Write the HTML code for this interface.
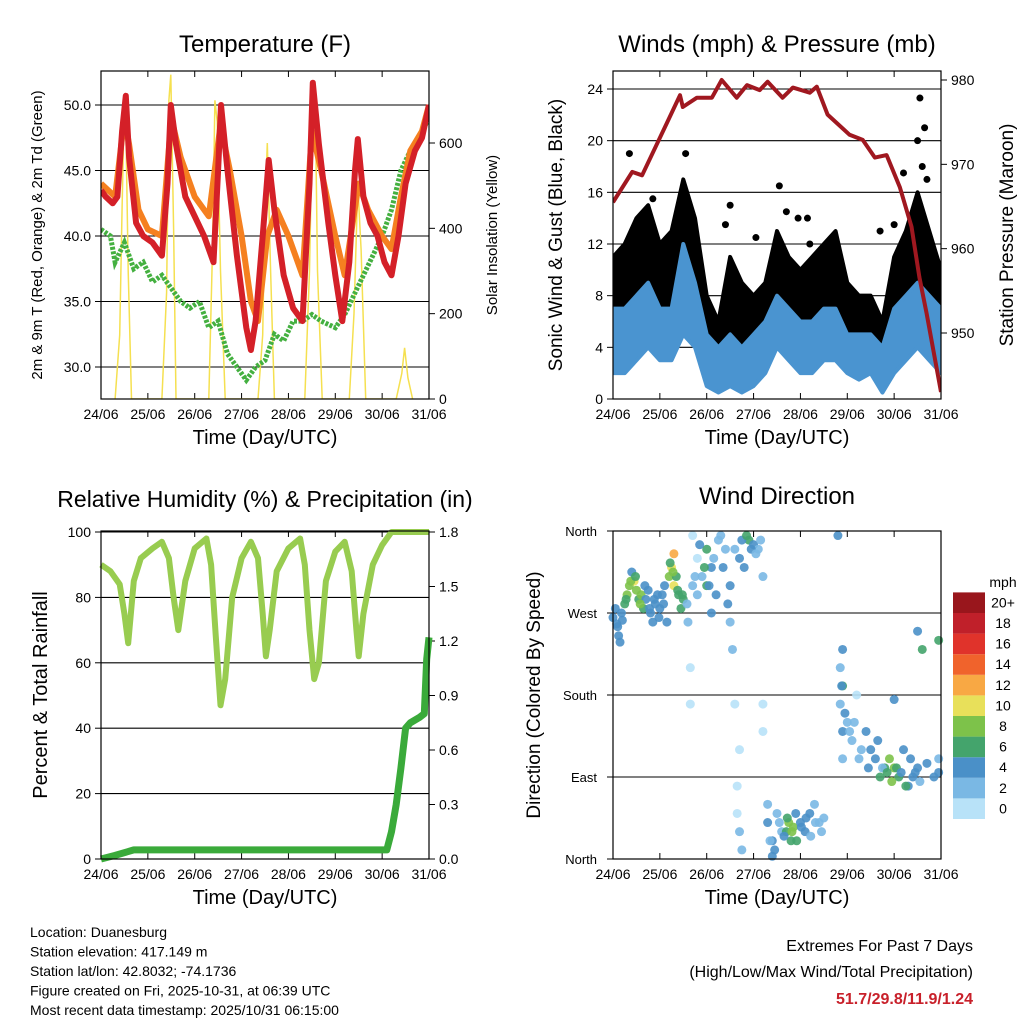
<!DOCTYPE html>
<html><head><meta charset="utf-8"><style>
body{margin:0;background:#fff}
svg{display:block;font-family:"Liberation Sans",sans-serif}
</style></head><body>
<svg id="s" width="1024" height="1024" viewBox="0 0 1024 1024"></svg>
<script>
// ---- Temperature data (day offset, value) ----
const redDays=[0,0.1,0.25,0.35,0.45,0.53,0.6,0.75,0.9,1.1,1.3,1.42,1.49,1.6,1.8,2.0,2.2,2.4,2.5,2.56,2.7,2.9,3.1,3.2,3.3,3.45,3.58,3.7,3.9,4.1,4.3,4.45,4.52,4.65,4.85,5.0,5.15,5.3,5.42,5.48,5.6,5.75,5.9,6.05,6.2,6.35,6.5,6.7,6.85,7];
const redVals=[43.5,43,42.5,43,48,50.7,46,41,40,39.5,38.5,44,50,47,43,41.5,40,38,45,50,45,38.5,33,31.3,33.5,40,45.8,42,37,34.5,33.5,44,51.7,47,41,37,33.5,38,45,47.4,43,41,40,38,37,40,44,46.5,47.5,50];
const orangeDays=[0,0.3,0.5,0.6,0.8,1.0,1.3,1.5,1.7,2.0,2.3,2.55,2.75,3.0,3.2,3.35,3.55,3.75,4.0,4.3,4.5,4.7,5.0,5.2,5.5,5.7,6.0,6.2,6.4,6.6,6.85,7];
const orangeVals=[44,43,49,47,42,40.5,40,49,46,43,41.5,48.5,45,40,35,33.5,40,42,40,37,48,45,40,37,44,42,40,39,43,46.5,48,50];
const greenDays=[0,0.2,0.3,0.5,0.7,0.9,1.1,1.3,1.5,1.7,1.9,2.1,2.3,2.5,2.7,2.9,3.1,3.3,3.5,3.7,3.9,4.1,4.3,4.5,4.7,5.0,5.2,5.4,5.6,5.8,6.0,6.2,6.4,6.6,6.85,7];
const greenVals=[40.5,40,38,39.5,37.5,38,36.5,37,36,35,34.5,35,33,33.5,31,30,29,30,30.5,32.5,32,33.5,33.5,34,33.5,33,34,35.5,37,38.5,40,42,45,46.5,48,49];
const solarDays=[0.3,0.4,0.45,0.5,0.53,0.58,0.65,1.3,1.4,1.45,1.49,1.55,1.6,1.68,2.3,2.38,2.43,2.48,2.55,2.65,3.35,3.45,3.5,3.55,3.62,3.7,4.35,4.45,4.52,4.57,4.62,4.72,5.3,5.4,5.48,5.55,5.65,6.3,6.42,6.48,6.55,6.65];
const solarVals=[0,150,450,700,650,300,0,0,250,700,760,400,0,0,0,350,700,650,300,0,0,150,450,600,300,0,0,300,700,730,300,0,0,200,500,350,0,0,60,120,50,0];
// ---- Winds ----
const windDays=[0,0.25,0.5,0.75,1,1.25,1.5,1.75,2,2.25,2.5,2.75,3,3.25,3.5,3.75,4,4.25,4.5,4.75,5,5.25,5.5,5.75,6,6.25,6.5,6.75,7];
const gustHigh=[11,12,14,15,12,13,17,14,8,6,11,9,8,9,13,11,10,11,12,13,9,8,8,6,11,13,16,13,10];
const gustLow=[4,5,6,6,5,5,7,6,2,2,3,2,2,3,5,5,4,4,5,5,3,3,3,2,3,5,6,6,4];
const windHigh=[7,7,8,9,7,7,12,9,5,4,5,4,5,6,8,7,6,6,7,7,5,5,5,4,7,8,9,8,7];
const windLow=[2,2,3,4,3,3,5,4,1,0.5,1,0.5,1,2,4,3,2,2,3,3,2,1.5,2,0.5,2,3,4,3,2];
const gustOutDays=[0.35,0.85,1.55,2.4,2.5,3.05,3.55,3.7,3.95,4.15,4.2,5.7,6.0,6.2,6.5,6.55,6.6,6.65,6.7];
const gustOutVals=[19,15.5,19,13.5,15,12.5,16.5,14.5,14,14,12,13,13.5,17.5,20,23.3,18,21,17];
const presDays=[0,0.41,0.62,1.15,1.43,1.49,1.79,2.11,2.32,2.64,2.86,3.13,3.30,3.62,3.84,4.2,4.35,4.58,5.05,5.33,5.59,5.84,6.12,6.37,6.54,6.69,7.0];
const presVals=[965.5,969.1,968.7,974.9,978.2,976.8,977.9,977.9,980.0,977.9,979.4,978.8,979.8,977.9,979.1,978.5,979.2,975.9,973.5,972.9,970.8,971.1,967.3,962.6,956.6,952.4,943.0];
// ---- RH & precip ----
const rhDays=[0,0.2,0.4,0.5,0.58,0.7,0.85,1.1,1.3,1.45,1.55,1.65,1.8,2.0,2.25,2.35,2.45,2.55,2.65,2.8,3.0,3.2,3.35,3.45,3.52,3.6,3.75,4.0,4.25,4.35,4.45,4.55,4.65,4.8,5.0,5.2,5.35,5.45,5.5,5.6,5.8,6.0,6.2,7];
const rhVals=[90,88,84,75,66,85,92,95,97,92,80,70,85,95,98,90,68,47,55,80,92,97,92,75,62,70,88,95,98,90,70,55,60,85,94,97,88,70,62,75,90,96,100,100];
const rainDays=[0,0.3,0.7,6.1,6.2,6.3,6.4,6.5,6.6,6.8,6.9,6.95,7];
const rainVals=[0,0.02,0.05,0.05,0.15,0.3,0.5,0.72,0.75,0.78,0.8,1.1,1.22];
// ---- Wind direction (day, degrees, speed mph) ----
const dirDays=[0,0.05,0.1,0.12,0.15,0.2,0.25,0.3,0.35,0.4,0.45,0.5,0.55,0.6,0.65,0.7,0.75,0.8,0.85,0.9,0.95,1.0,1.05,1.1,1.15,1.2,1.25,1.3,1.3,1.35,1.4,1.45,1.5,1.6,1.7,1.8,1.8,1.9,1.7,1.65,1.65,2.0,2.0,2.1,2.1,2.2,2.3,2.4,2.5,2.5,2.55,2.6,2.7,2.8,2.9,3.0,2.65,2.65,2.7,2.6,2.7,2.75,3.1,3.2,3.2,3.2,3.3,3.3,3.4,3.5,3.6,3.4,3.7,3.75,3.8,3.85,3.9,4.0,4.1,4.2,4.3,4.4,4.45,4.5,4.8,4.85,4.9,4.9,4.85,4.9,4.9,5.0,5.1,5.2,5.3,5.4,5.5,5.6,5.7,5.8,5.9,6.0,6.1,6.2,6.3,6.4,6.5,6.5,6.6,6.0,6.95,6.95,
0.08,0.18,0.28,0.38,0.48,0.58,0.68,0.78,0.88,0.98,1.08,1.22,1.28,1.38,1.48,1.58,1.75,1.85,1.95,2.05,2.15,2.25,2.35,2.45,2.75,2.85,2.95,3.05,3.15,3.35,3.45,3.55,3.65,3.72,3.82,3.92,4.02,4.12,4.22,4.32,4.88,4.95,5.05,5.15,5.25,5.45,5.65,5.75,5.85,5.95,6.05,6.15,6.25,6.35,6.45,6.55,6.7,6.85,6.95];
const dirDegs=[265,275,255,245,238,262,280,290,300,315,305,295,285,290,275,285,295,270,260,280,290,275,290,300,260,310,320,335,300,310,290,275,285,260,300,330,290,310,355,210,170,340,300,270,320,290,355,340,300,260,230,340,330,320,350,345,80,50,30,170,120,10,340,310,170,140,60,40,20,50,30,3,30,40,20,35,50,40,30,50,60,40,30,45,355,210,230,190,170,140,110,150,130,180,120,140,120,110,90,100,110,100,90,120,80,90,100,250,230,175,240,95,
258,270,285,305,310,280,300,275,285,265,280,325,315,295,290,280,310,345,320,300,330,350,320,280,350,355,340,335,350,20,10,40,25,45,30,20,35,45,25,40,190,160,140,150,110,100,130,100,95,85,100,95,80,110,95,85,105,90,110];
const dirSpeeds=[4,4,4,4,4,4,6,8,8,4,10,8,6,8,6,4,4,4,4,4,4,4,4,4,4,8,10,12,10,6,6,6,6,2,2,0,2,2,0,0,0,6,6,4,4,4,2,2,4,2,2,2,4,4,6,4,0,0,2,0,0,2,2,2,0,0,2,4,4,2,2,4,6,8,6,8,4,4,4,4,2,2,2,2,4,2,4,6,2,4,2,2,2,0,2,4,4,4,6,6,8,8,6,4,4,4,4,4,6,4,6,4,
4,4,6,8,6,8,4,4,4,4,4,6,8,6,6,2,2,4,6,4,2,2,4,4,4,6,4,2,2,2,4,2,4,6,8,6,4,4,2,2,4,4,2,2,2,4,4,2,6,8,6,4,6,4,4,2,4,4,2];
const cbLabels=['0','2','4','6','8','10','12','14','16','18','20+'];
const cbColors=['#b8e2f8','#7ab8e4','#4a90c8','#44a46c','#7dc24a','#e8e05a','#f8a844','#f0632c','#e0332b','#c0202a','#99161c'];
const dayLabels=['24/06','25/06','26/06','27/06','28/06','29/06','30/06','31/06'];

const S=document.getElementById('s');const NS='http://www.w3.org/2000/svg';
function mk(t,a,p){const e=document.createElementNS(NS,t);for(const k in a)e.setAttribute(k,a[k]);(p||S).appendChild(e);return e;}
function txt(x,y,s,size,anchor,extra){const e=mk('text',Object.assign({x:x,y:y,'font-size':size,'text-anchor':anchor||'middle',fill:'#000'},extra||{}));e.textContent=s;return e;}
function lin(d0,d1,r0,r1){return v=>r0+(v-d0)*(r1-r0)/(d1-d0);}
function poly(xs,ys,fx,fy,attrs,name,parent){const pts=xs.map((d,i)=>fx(d).toFixed(1)+','+fy(ys[i]).toFixed(1)).join(' ');const e=mk('polyline',Object.assign({points:pts,fill:'none'},attrs),parent);return e;}
function box(L,T,R,B){const e=mk('rect',{x:L,y:T,width:R-L,height:B-T,fill:'none',stroke:'#000','stroke-width':1.2});}
function hline(L,R,y,c){mk('line',{x1:L,x2:R,y1:y,y2:y,stroke:c||'#000','stroke-width':1.1});}
function clip(id,L,T,R,B){const c=mk('clipPath',{id:id});mk('rect',{x:L,y:T,width:R-L,height:B-T},c);return mk('g',{'clip-path':'url(#'+id+')'});}
function xaxis(L,R,B,T){const fx=lin(0,7,L,R);dayLabels.forEach((s,i)=>{const x=fx(i);mk('line',{x1:x,x2:x,y1:B,y2:B-6,stroke:'#000'});mk('line',{x1:x,x2:x,y1:T,y2:T+6,stroke:'#000'});const t=txt(x,B+20,s,14);});
const t=txt((L+R)/2,B+45,'Time (Day/UTC)',20);return fx;}

// ===== Panel 1: Temperature =====
(function(){const L=101,T=71,R=429,B=399;const fx=xaxis(L,R,B,T);
const fy=lin(30,50,367,105);const fs=lin(0,600,399,143);
[30,35,40,45,50].forEach(v=>{hline(L,R,fy(v));mk('line',{x1:L,x2:L-6,y1:fy(v),y2:fy(v),stroke:'#000'});const t=txt(L-10,fy(v)+5,v.toFixed(1),14,'end');});
[0,200,400,600].forEach(v=>{mk('line',{x1:R,x2:R+6,y1:fs(v),y2:fs(v),stroke:'#000'});const t=txt(R+10,fs(v)+5,String(v),14,'start');});
const g=clip('c1',L,T,R,B);
poly(solarDays,solarVals,fx,fs,{stroke:'#f5e050','stroke-width':1.5},'solar-insolation-line',g);
poly(greenDays,greenVals,fx,fy,{stroke:'#44b040','stroke-width':5,'stroke-dasharray':'3 1.5'},'dewpoint-line',g);
poly(orangeDays,orangeVals,fx,fy,{stroke:'#f58020','stroke-width':6,'stroke-linejoin':'round'},'temp-9m-line',g);
poly(redDays,redVals,fx,fy,{stroke:'#d42028','stroke-width':6,'stroke-linejoin':'round'},'temp-2m-line',g);
box(L,T,R,B);
let t=txt(265,52,'Temperature (F)',24);
t=txt(0,0,'2m & 9m T (Red, Orange) & 2m Td (Green)',15,'middle',{transform:'translate(42,235) rotate(-90)'});
t=txt(0,0,'Solar Insolation (Yellow)',15,'middle',{transform:'translate(497,235) rotate(-90)'});
})();

// ===== Panel 2: Winds & Pressure =====
(function(){const L=613,T=71,R=941,B=399;const fx=xaxis(L,R,B,T);
const fy=lin(0,24,399,89);const fp=lin(950,980,333,80);
[0,4,8,12,16,20,24].forEach(v=>{hline(L,R,fy(v));mk('line',{x1:L,x2:L-6,y1:fy(v),y2:fy(v),stroke:'#000'});const t=txt(L-10,fy(v)+5,String(v),14,'end');});
[950,960,970,980].forEach(v=>{mk('line',{x1:R,x2:R+6,y1:fp(v),y2:fp(v),stroke:'#000'});const t=txt(R+10,fp(v)+5,String(v),14,'start');});
const g=clip('c2',L,T,R,B);
function band(lo,hi,col,name){const pts=windDays.map((d,i)=>fx(d)+','+fy(hi[i])).concat(windDays.slice().reverse().map((d,j)=>{const i=windDays.length-1-j;return fx(d)+','+fy(lo[i]);})).join(' ');const e=mk('polygon',{points:pts,fill:col,stroke:col,'stroke-width':4,'stroke-linejoin':'round'},g);}
band(gustLow,gustHigh,'#000','gust-scatter');
gustOutDays.forEach((d,i)=>{const c=mk('circle',{cx:fx(d),cy:fy(gustOutVals[i]),r:3.5,fill:'#000'},g);

});
band(windLow,windHigh,'#4a94d0','sonic-wind-line');
poly(presDays,presVals,fx,fp,{stroke:'#a01820','stroke-width':4,'stroke-linejoin':'round'},'pressure-line',g);
box(L,T,R,B);
let t=txt(777,52,'Winds (mph) & Pressure (mb)',24);
t=txt(0,0,'Sonic Wind & Gust (Blue, Black)',19,'middle',{transform:'translate(562,235) rotate(-90)'});
t=txt(0,0,'Station Pressure (Maroon)',19,'middle',{transform:'translate(1013,235) rotate(-90)'});
})();

// ===== Panel 3: RH & Precip =====
(function(){const L=101,T=531,R=429,B=859;const fx=xaxis(L,R,B,T);
const fy=lin(0,100,859,532);const fr=lin(0,1.8,859,532);
[0,20,40,60,80,100].forEach(v=>{hline(L,R,fy(v));mk('line',{x1:L,x2:L-6,y1:fy(v),y2:fy(v),stroke:'#000'});const t=txt(L-10,fy(v)+5,String(v),14,'end');});
[0,0.3,0.6,0.9,1.2,1.5,1.8].forEach(v=>{mk('line',{x1:R,x2:R+6,y1:fr(v),y2:fr(v),stroke:'#000'});const t=txt(R+10,fr(v)+5,v.toFixed(1),14,'start');});
poly(rhDays,rhVals,fx,fy,{stroke:'#98cc50','stroke-width':6,'stroke-linejoin':'round'},'humidity-line');
poly(rainDays,rainVals,fx,fr,{stroke:'#3aaa3a','stroke-width':7,'stroke-linejoin':'round'},'precip-line');
box(L,T,R,B);
let t=txt(265,507,'Relative Humidity (%) & Precipitation (in)',23);
t=txt(0,0,'Percent & Total Rainfall',20,'middle',{transform:'translate(47,695) rotate(-90)'});
})();

// ===== Panel 4: Wind Direction =====
(function(){const L=613,T=531,R=941,B=859;const fx=xaxis(L,R,B,T);
const fy=lin(0,360,859,531);
[['North',0],['East',90],['South',180],['West',270],['North',360]].forEach(([s,v])=>{hline(L,R,fy(v));mk('line',{x1:L,x2:L-6,y1:fy(v),y2:fy(v),stroke:'#000'});const t=txt(L-16,fy(v)+5,s,13,'end');});
dirDays.forEach((d,i)=>{const k=Math.min(10,Math.round(dirSpeeds[i]/2));
const c=mk('circle',{cx:fx(d),cy:fy(dirDegs[i]),r:4.5,fill:cbColors[k],opacity:0.9});

});
box(L,T,R,B);
cbColors.forEach((c,i)=>{const y=819-(i+1)*20.6;const r=mk('rect',{x:953,y:y,width:32,height:20.6,fill:c});const t=txt(1003,y+15,cbLabels[i],14);});
let t=txt(1003,587,'mph',14);
t=txt(777,504,'Wind Direction',24);
t=txt(0,0,'Direction (Colored By Speed)',19,'middle',{transform:'translate(540,695) rotate(-90)'});
})();

// ===== Footer =====
['Location: Duanesburg','Station elevation: 417.149 m','Station lat/lon: 42.8032; -74.1736','Figure created on Fri, 2025-10-31, at 06:39 UTC','Most recent data timestamp: 2025/10/31 06:15:00'].forEach((s,i)=>{const t=txt(30,937+i*19.5,s,14,'start');});
let t=txt(973,951,'Extremes For Past 7 Days',16,'end');
t=txt(973,977,'(High/Low/Max Wind/Total Precipitation)',16,'end');
t=txt(973,1004,'51.7/29.8/11.9/1.24',16,'end',{fill:'#c8202a','font-weight':'bold'});
</script>
</body></html>
